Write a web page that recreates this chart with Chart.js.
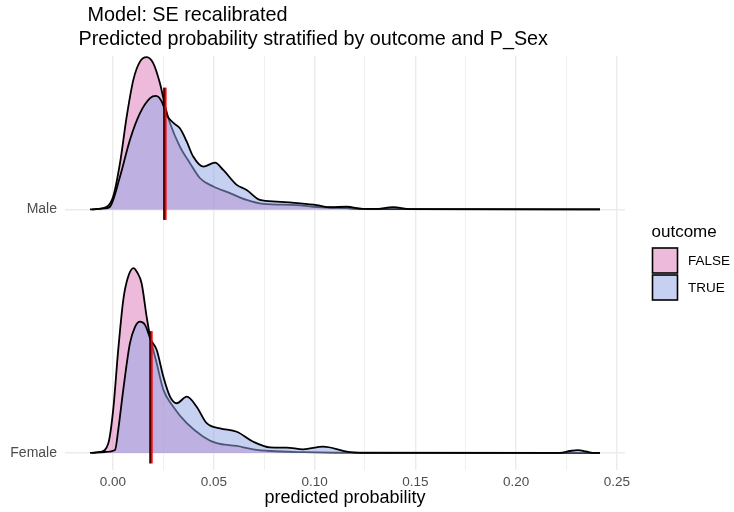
<!DOCTYPE html>
<html>
<head>
<meta charset="utf-8">
<script src="https://cdn.jsdelivr.net/npm/chart.js@4.4.1/dist/chart.umd.min.js"></script>
<style>
  html, body { margin: 0; padding: 0; background: #ffffff; }
  canvas { display: block; }
</style>
</head>
<body>
<canvas id="chart" width="734" height="512"></canvas>
<script>
// ---- chart text -------------------------------------------------------
const titleLines = ['Model: SE recalibrated', 'Predicted probability stratified by outcome and P_Sex'];
const axisTitle = 'predicted probability';
const legendTitle = 'outcome';
const outcomes = ['FALSE', 'TRUE'];
const groups = ['Female', 'Male'];          // ridge rows, bottom to top
const xTicks = [0, 0.05, 0.10, 0.15, 0.20, 0.25];

// ---- scaled density ridges (height in row units) ---------------------
const maleFalseX = [-0.0114, -0.0048, 0.0001, 0.0035, 0.0068, 0.0101, 0.0134, 0.0167, 0.0200, 0.0233, 0.0263, 0.0283, 0.0332, 0.0382, 0.0432, 0.0498, 0.0580, 0.0663, 0.0746, 0.0911, 0.0992, 0.1159, 0.1240, 0.1400, 0.2416];
const maleFalseH = [0, 0.005, 0.053, 0.191, 0.381, 0.532, 0.607, 0.625, 0.600, 0.518, 0.409, 0.354, 0.258, 0.190, 0.128, 0.094, 0.067, 0.039, 0.023, 0.018, 0.011, 0.005, 0.002, 0.001, 0];

const maleTrueX = [-0.0104, -0.0040, -0.0015, 0.0035, 0.0084, 0.0134, 0.0184, 0.0213, 0.0242, 0.0266, 0.0300, 0.0332, 0.0365, 0.0398, 0.0448, 0.0506, 0.0547, 0.0614, 0.0663, 0.0729, 0.0812, 0.0928, 0.1010, 0.1076, 0.1159, 0.1242, 0.1300, 0.1390, 0.1473, 0.2416];
const maleTrueH = [0, 0.004, 0.011, 0.135, 0.285, 0.395, 0.457, 0.466, 0.443, 0.388, 0.355, 0.333, 0.280, 0.217, 0.176, 0.192, 0.162, 0.101, 0.080, 0.039, 0.032, 0.025, 0.018, 0.009, 0.011, 0.002, 0.002, 0.009, 0.001, 0];

const femaleFalseX = [-0.0114, -0.0064, -0.0023, 0.0001, 0.0026, 0.0051, 0.0074, 0.0101, 0.0119, 0.0142, 0.0167, 0.0184, 0.0217, 0.0250, 0.0299, 0.0366, 0.0448, 0.0514, 0.0614, 0.0696, 0.0779, 0.0944, 0.1100, 0.2416];
const femaleFalseH = [0, 0.004, 0.040, 0.177, 0.423, 0.628, 0.720, 0.759, 0.743, 0.697, 0.560, 0.478, 0.368, 0.259, 0.190, 0.122, 0.067, 0.040, 0.029, 0.015, 0.008, 0.003, 0.001, 0];

const femaleTrueX = [-0.0104, -0.0040, 0.0010, 0.0026, 0.0051, 0.0084, 0.0109, 0.0134, 0.0159, 0.0188, 0.0217, 0.0250, 0.0283, 0.0316, 0.0366, 0.0415, 0.0465, 0.0531, 0.0614, 0.0696, 0.0779, 0.0861, 0.0944, 0.1043, 0.1142, 0.1176, 0.1225, 0.2217, 0.2267, 0.2307, 0.2346, 0.2390, 0.2416];
const femaleTrueH = [0, 0.004, 0.012, 0.094, 0.259, 0.450, 0.517, 0.539, 0.526, 0.464, 0.423, 0.313, 0.231, 0.204, 0.231, 0.190, 0.122, 0.101, 0.087, 0.046, 0.023, 0.022, 0.015, 0.026, 0.009, 0.003, 0, 0, 0.008, 0.012, 0.006, 0, 0];

// reference lines per row: [FALSE, TRUE]
const maleLines = [0.0254, 0.0261];
const femaleLines = [0.0185, 0.0192];

// ---- styling ----------------------------------------------------------
const FONT = '"Liberation Sans", Arial, Helvetica, sans-serif';
const fills = { FALSE: 'rgba(222,118,186,0.5)', TRUE: 'rgba(145,167,231,0.52)' };
const GRID = '#EBEBEB';

Chart.defaults.font.family = FONT;

function ridgePoints(xs, hs, base) {
  return xs.map((x, i) => ({ x: x, y: base + hs[i] }));
}

function ridgeDataset(label, xs, hs, base, order) {
  return {
    label: label,
    data: ridgePoints(xs, hs, base),
    borderColor: '#000000',
    borderWidth: 1.8,
    backgroundColor: fills[label],
    fill: { value: base },
    cubicInterpolationMode: 'monotone',
    pointRadius: 0,
    order: order
  };
}

function markDataset(v, base, color, order) {
  return {
    label: 'mark',
    data: [{ x: v, y: base - 0.043 }, { x: v, y: base + 0.5 }],
    borderColor: color,
    borderWidth: 2,
    pointRadius: 0,
    fill: false,
    order: order
  };
}

const baseOf = { Female: 1, Male: 2 };
const minorTicks = xTicks.slice(0, -1).map((v, i) => (v + xTicks[i + 1]) / 2);
const gridValues = xTicks.concat(minorTicks).sort((a, b) => a - b);
const isMajor = v => xTicks.some(t => Math.abs(t - v) < 1e-9);

// title and legend drawn around the plot panel
const decorations = {
  id: 'decorations',
  afterDraw(chart) {
    const ctx = chart.ctx;
    ctx.save();
    ctx.fillStyle = '#000000';
    ctx.textBaseline = 'alphabetic';
    ctx.textAlign = 'left';
    ctx.font = '19.8px ' + FONT;
    ctx.fillText(titleLines[0], 87.5, 21);
    ctx.fillText(titleLines[1], 78.5, 45);

    // legend
    ctx.font = '17px ' + FONT;
    ctx.fillText(legendTitle, 651.5, 237);
    ctx.font = '13.5px ' + FONT;
    ctx.textBaseline = 'middle';
    outcomes.forEach((o, i) => {
      const y = 248 + i * 27;
      ctx.fillStyle = '#ffffff';
      ctx.fillRect(652.5, y, 25, 25);
      ctx.fillStyle = fills[o];
      ctx.fillRect(652.5, y, 25, 25);
      ctx.strokeStyle = '#000000';
      ctx.lineWidth = 1.6;
      ctx.strokeRect(652.5, y, 25, 25);
      ctx.fillStyle = '#000000';
      ctx.fillText(o, 688, y + 13);
    });
    ctx.restore();
  }
};

const datasets = [
  ridgeDataset('FALSE', maleFalseX, maleFalseH, baseOf.Male, 3),
  ridgeDataset('TRUE', maleTrueX, maleTrueH, baseOf.Male, 2),
  ridgeDataset('FALSE', femaleFalseX, femaleFalseH, baseOf.Female, 3),
  ridgeDataset('TRUE', femaleTrueX, femaleTrueH, baseOf.Female, 2),
  markDataset(maleLines[0], baseOf.Male, '#000000', 1),
  markDataset(maleLines[1], baseOf.Male, '#FF0000', 0),
  markDataset(femaleLines[0], baseOf.Female, '#000000', 1),
  markDataset(femaleLines[1], baseOf.Female, '#FF0000', 0)
];

new Chart(document.getElementById('chart'), {
  type: 'line',
  data: { datasets: datasets },
  plugins: [decorations],
  options: {
    responsive: false,
    animation: false,
    devicePixelRatio: 1,
    layout: { padding: { top: 56, right: 109, bottom: 0, left: 0 } },
    plugins: {
      legend: { display: false },
      tooltip: { enabled: false },
      title: { display: false }
    },
    scales: {
      x: {
        type: 'linear',
        min: -0.0238,
        max: 0.254,
        afterBuildTicks: s => { s.ticks = gridValues.map(v => ({ value: v })); },
        afterFit: s => { s.height = 42; },
        grid: {
          color: GRID,
          lineWidth: c => (c.tick && isMajor(c.tick.value)) ? 1.4 : 0.8,
          drawTicks: false
        },
        border: { display: false },
        ticks: {
          padding: 4,
          color: '#4D4D4D',
          font: { size: 13.5 },
          maxRotation: 0,
          autoSkip: false,
          callback: v => isMajor(v) ? v.toFixed(2) : ''
        },
        title: {
          display: true,
          text: axisTitle,
          color: '#000000',
          font: { size: 18 },
          padding: { top: 0, bottom: 3 }
        }
      },
      y: {
        type: 'linear',
        min: 0.93,
        max: 2.63,
        afterBuildTicks: s => { s.ticks = groups.map((g, i) => ({ value: i + 1 })); },
        afterFit: s => { s.width = 65; },
        grid: { color: GRID, lineWidth: 1.4, drawTicks: false },
        border: { display: false },
        ticks: {
          padding: 8,
          color: '#4D4D4D',
          font: { size: 14 },
          callback: v => groups[Math.round(v) - 1]
        }
      }
    }
  }
});
</script>
</body>
</html>
